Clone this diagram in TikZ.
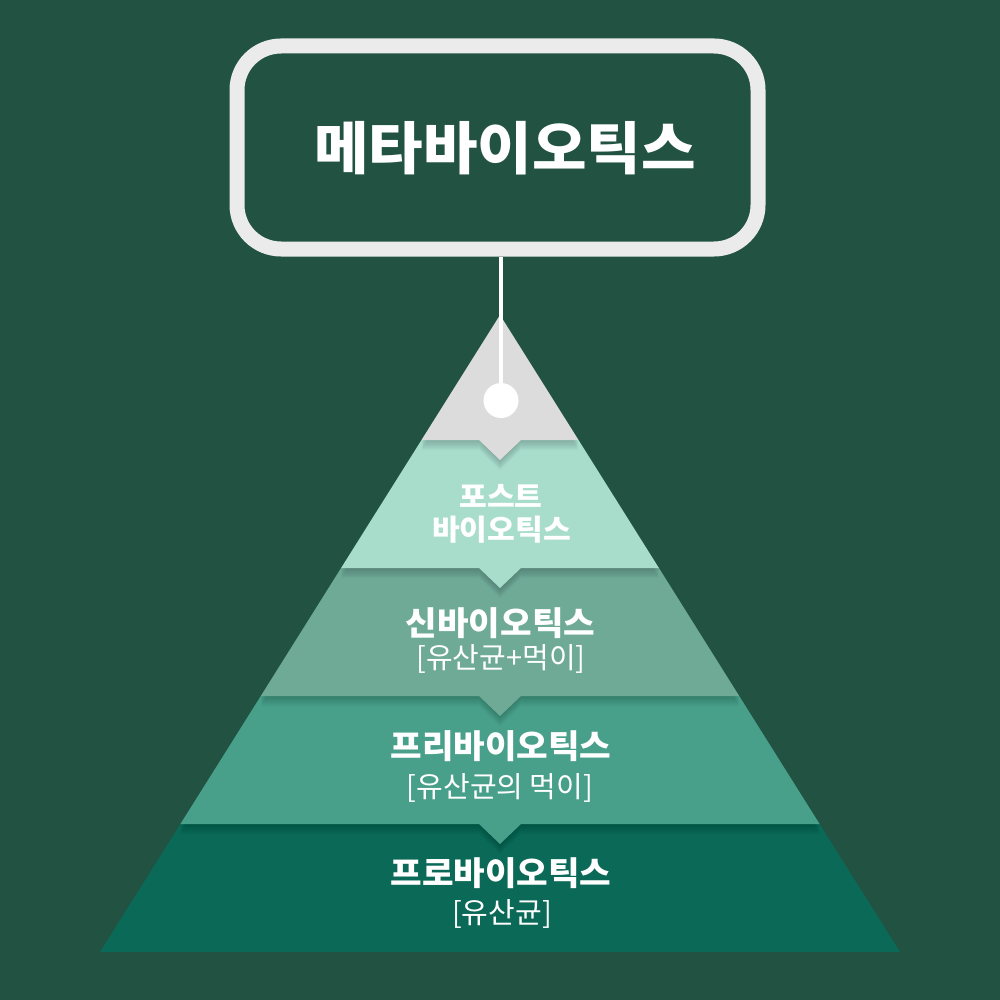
\documentclass[tikz,border=0pt]{standalone}
\usepackage{fontspec}
\setmainfont{Noto Sans CJK KR}
\newfontfamily\krwide[FakeStretch=1.04]{Noto Sans CJK KR}

\definecolor{bg}{HTML}{225242}
\definecolor{boxline}{HTML}{EBEBEB}
\definecolor{apex}{HTML}{DCDCDC}
\definecolor{layerA}{HTML}{A8DDCC}
\definecolor{layerB}{HTML}{6FAA97}
\definecolor{layerC}{HTML}{48A08A}
\definecolor{layerD}{HTML}{0B6957}

% outlines of the pyramid bands, each with its notch below
\def\bandapex{(500,315) -- (578.5,440) -- (521,440) -- (500,460) -- (479,440) -- (421.5,440) -- cycle}
\def\bandA{(421.5,440) -- (578.5,440) -- (658.9,568) -- (521,568) -- (500,588) -- (479,568) -- (341.1,568) -- cycle}
\def\bandB{(341.1,568) -- (658.9,568) -- (739.2,696) -- (521,696) -- (500,716) -- (479,696) -- (260.8,696) -- cycle}
\def\bandC{(260.8,696) -- (739.2,696) -- (819.6,824) -- (521,824) -- (500,844) -- (479,824) -- (180.4,824) -- cycle}
\def\bandD{(180.4,824) -- (819.6,824) -- (900,952) -- (100,952) -- cycle}

\begin{document}
\begin{tikzpicture}[x=1pt,y=-1pt,
  title/.style={text=white,inner sep=0pt,font=\krwide\fontsize{57}{62}\selectfont\bfseries},
  band name/.style={text=white,inner sep=0pt,font=\krwide\fontsize{33}{38}\selectfont\bfseries},
  band note/.style={text=white,inner sep=0pt,font=\fontsize{29}{34}\selectfont},
  drop/.style={fill=black,fill opacity=0.02}]

  \fill[bg] (0,0) rectangle (1000,1000);

  % bands from the bottom up, each casting a soft shadow on the one below
  \fill[layerD] \bandD;
  \begin{scope}
    \clip \bandD;
    \foreach \i in {1,...,10}
      \fill[drop,yshift=-\i pt] \bandC;
  \end{scope}
  \fill[layerC] \bandC;
  \begin{scope}
    \clip \bandC;
    \foreach \i in {1,...,10}
      \fill[drop,yshift=-\i pt] \bandB;
  \end{scope}
  \fill[layerB] \bandB;
  \begin{scope}
    \clip \bandB;
    \foreach \i in {1,...,10}
      \fill[drop,yshift=-\i pt] \bandA;
  \end{scope}
  \fill[layerA] \bandA;
  \begin{scope}
    \clip \bandA;
    \foreach \i in {1,...,10}
      \fill[drop,yshift=-\i pt] \bandapex;
  \end{scope}
  \fill[apex] \bandapex;

  \node[draw=boxline,line width=15pt,rounded corners=44pt,
    minimum width=521pt,minimum height=203pt] (metabox) at (497.5,147.5) {};
  \node[title] (meta) at (505,148) {메타바이오틱스};

  \node[circle,fill=white,minimum size=35pt,inner sep=0pt] (dot) at (501,400.5) {};
  \draw[white,line width=4pt] (dot.center) -- (dot.center |- metabox.south);

  \node[band name,font=\krwide\fontsize{29}{34}\selectfont\bfseries] (post) at (501,496) {포스트};
  \node[band name,font=\krwide\fontsize{29}{34}\selectfont\bfseries] (postname) at (501.5,529.5) {바이오틱스};
  \node[band name] (syn) at (500.5,623.5) {신바이오틱스};
  \node[band note] (synnote) at (501,659) {[유산균+먹이]};
  \node[band name] (pre) at (501,746.5) {프리바이오틱스};
  \node[band note] (prenote) at (500,787.5) {[유산균의 먹이]};
  \node[band name] (pro) at (501,873.5) {프로바이오틱스};
  \node[band note] (pronote) at (502,913.5) {[유산균]};
\end{tikzpicture}
\end{document}
